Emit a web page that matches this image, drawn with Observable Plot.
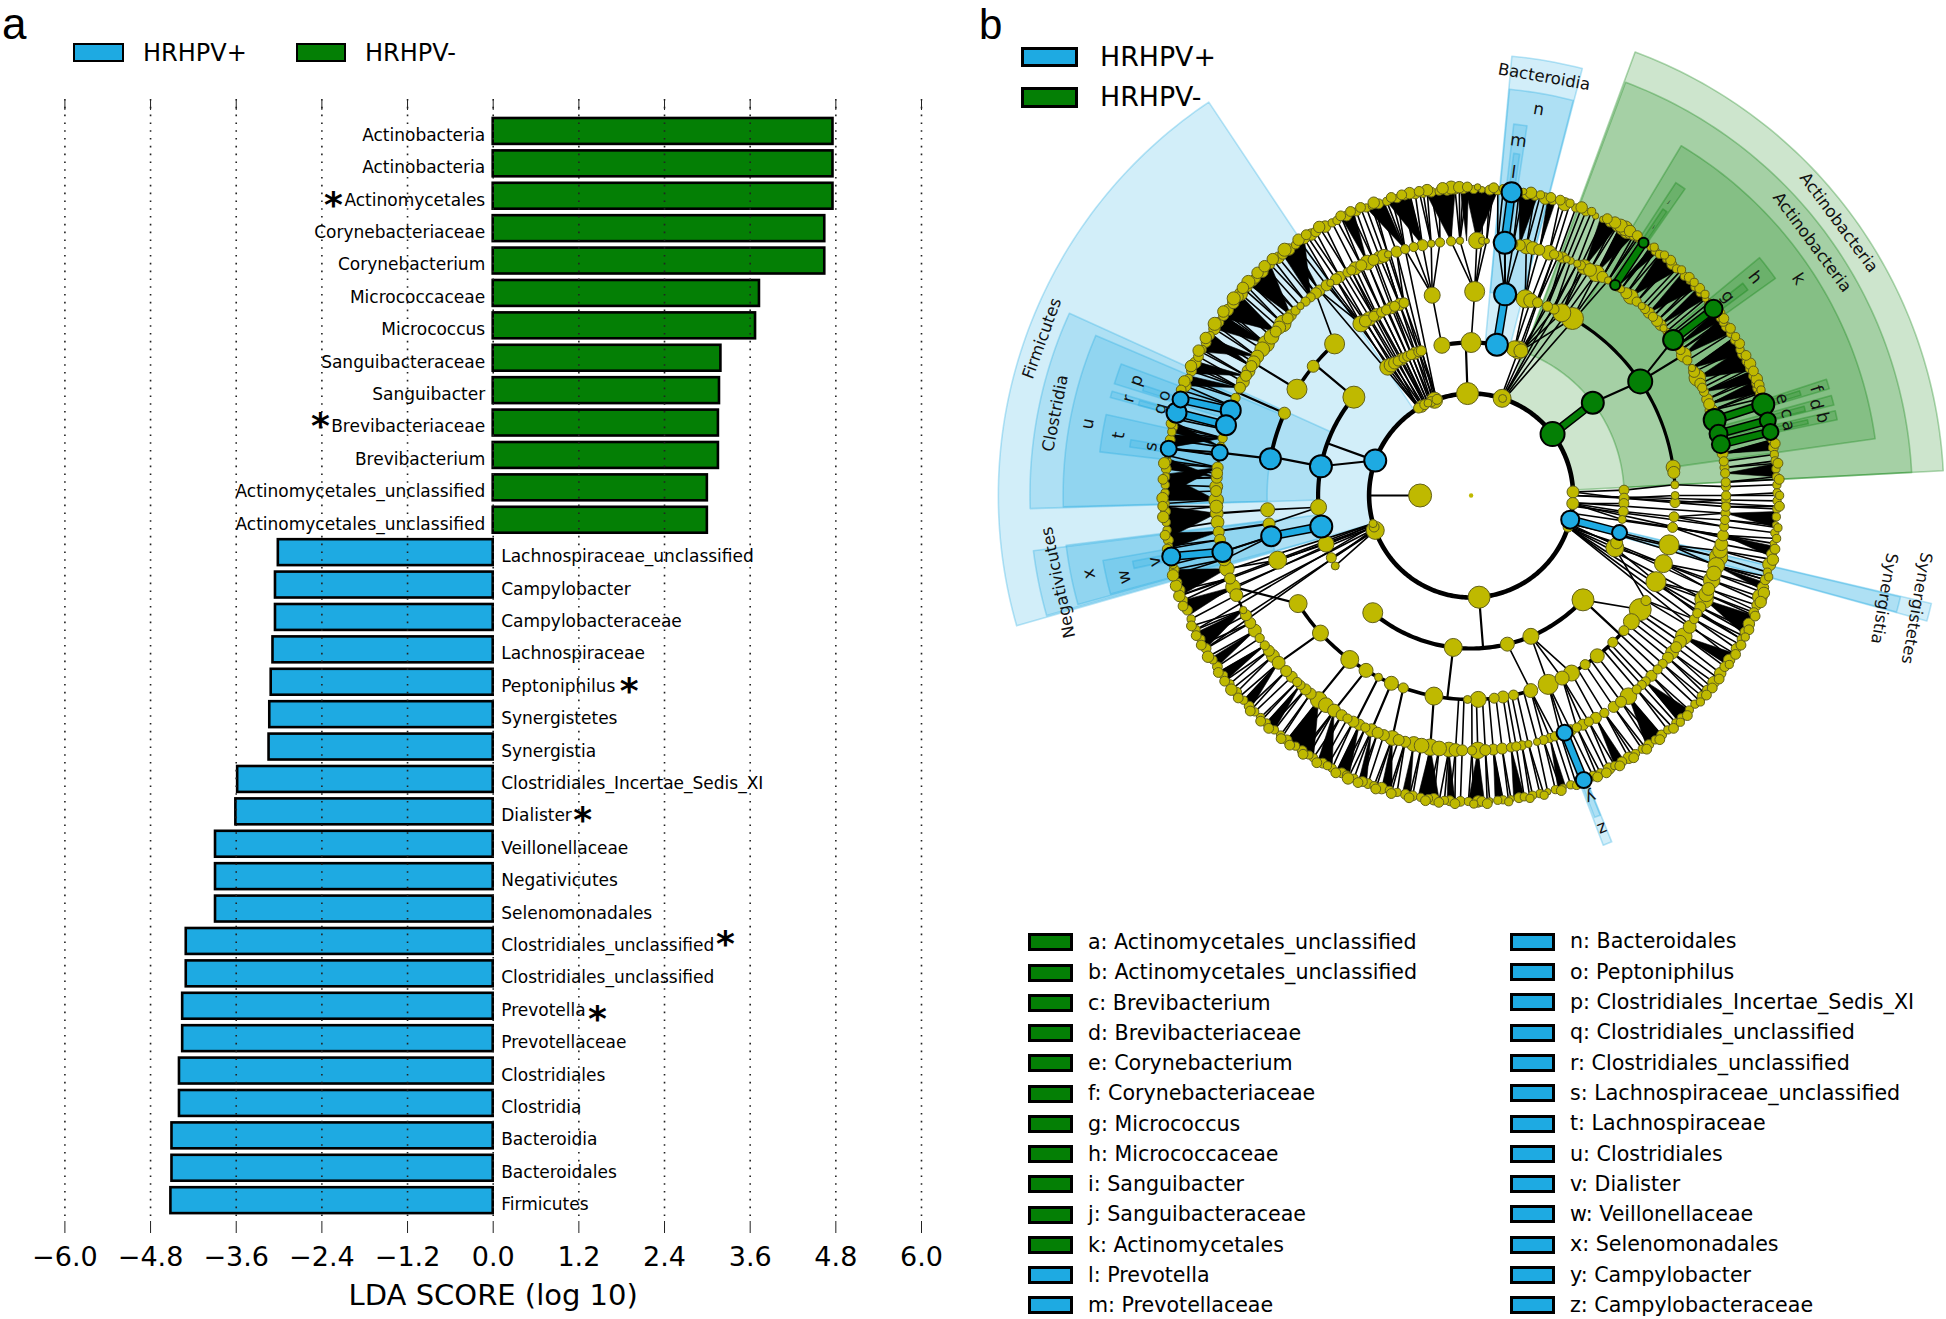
<!DOCTYPE html>
<html>
<head>
<meta charset="utf-8">
<script src="https://cdn.jsdelivr.net/npm/d3@7"></script>
<script src="https://cdn.jsdelivr.net/npm/@observablehq/plot@0.6"></script>
<style>
html,body{margin:0;padding:0;background:#fff}
#root{position:relative;width:1946px;height:1319px;overflow:hidden;font-family:"DejaVu Sans",sans-serif;color:#000;background:#fff}
#root>svg{position:absolute}
.sw{position:absolute;box-sizing:border-box;border:3px solid #000}
.lb{position:absolute;white-space:nowrap;line-height:1}
</style>
</head>
<body>
<div id="root"></div>
<script>
const BLUE="#1eaae2", GREEN="#047f05", YELLOW="#bfb900";

// ---------- panel a: LDA scores ----------
const greenNames=["Actinobacteria","Actinobacteria","Actinomycetales","Corynebacteriaceae","Corynebacterium","Micrococcaceae","Micrococcus","Sanguibacteraceae","Sanguibacter","Brevibacteriaceae","Brevibacterium","Actinomycetales_unclassified","Actinomycetales_unclassified"];
const greenScores=[4.76,4.76,4.76,4.645,4.645,3.73,3.675,3.19,3.17,3.155,3.155,3.0,3.0];
const blueNames=["Lachnospiraceae_unclassified","Campylobacter","Campylobacteraceae","Lachnospiraceae","Peptoniphilus","Synergistetes","Synergistia","Clostridiales_Incertae_Sedis_XI","Dialister","Veillonellaceae","Negativicutes","Selenomonadales","Clostridiales_unclassified","Clostridiales_unclassified","Prevotella","Prevotellaceae","Clostridiales","Clostridia","Bacteroidia","Bacteroidales","Firmicutes"];
const blueScores=[-3.01,-3.05,-3.05,-3.085,-3.11,-3.13,-3.14,-3.58,-3.605,-3.89,-3.89,-3.89,-4.30,-4.30,-4.35,-4.35,-4.395,-4.395,-4.50,-4.50,-4.515];
const xTicks=[-6,-4.8,-3.6,-2.4,-1.2,0,1.2,2.4,3.6,4.8,6];
const starRows=[2,9,17,21,25,27];
const starScores=[-2.237,-2.419,1.904,1.254,3.254,1.46];
const starShift=[3,-2.6,3,2.6,-3,7];

const rowsG=greenNames.map((n,i)=>({i,n,s:greenScores[i]}));
const rowsB=blueNames.map((n,i)=>({i:i+13,n,s:blueScores[i]}));
const stars=starRows.map((r,i)=>({r,s:starScores[i],d:starShift[i]}));

const chartA=Plot.plot({
  width:970,height:1319,marginLeft:64.4,marginRight:49,marginTop:99,marginBottom:98,
  style:{fontFamily:"DejaVu Sans",background:"transparent"},
  x:{domain:[-6,6]},
  y:{type:"band",domain:d3.range(34),range:[111.5,1219.6],padding:0.2,round:false,axis:null},
  marks:[
    Plot.barX(rowsG,{x1:()=>0,x2:"s",y:"i",fill:GREEN,stroke:"#000",strokeWidth:2.6}),
    Plot.barX(rowsB,{x1:()=>0,x2:"s",y:"i",fill:BLUE,stroke:"#000",strokeWidth:2.6}),
    Plot.ruleX(xTicks,{stroke:"#222",strokeWidth:1.6,strokeDasharray:"1.6,6.2"}),
    Plot.text(rowsG,{x:()=>0,y:"i",text:"n",textAnchor:"end",dx:-8,dy:4,fontSize:17,fill:"#000"}),
    Plot.text(rowsB,{x:()=>0,y:"i",text:"n",textAnchor:"start",dx:8,dy:4,fontSize:17,fill:"#000"}),
    ...stars.map(s=>Plot.text([s],{x:"s",y:"r",text:()=>"*",fontSize:36,fontWeight:"bold",dy:6+s.d,fill:"#000",lineAnchor:"middle"})),
    Plot.axisX({anchor:"bottom",ticks:xTicks,tickFormat:d3.format(".1f"),tickSize:12,tickPadding:13,fontSize:27,label:null,stroke:"#222"}),
    Plot.axisX({anchor:"top",ticks:xTicks,tickFormat:()=>"",tickSize:-10,label:null,stroke:"#222"}),
    Plot.text(["LDA SCORE (log 10)"],{frameAnchor:"bottom",dy:74,lineAnchor:"middle",fontSize:29,fill:"#000"})
  ]
});
chartA.style.left="0px";chartA.style.top="0px";

// ---------- panel b: cladogram ----------
// angles in degrees clockwise from north, levels as taxonomic rank rings
const clades=[
 [20.3,87,2,9.27,"g"],[20.5,87,3,8.65,"g"],[31,82,4,8,"g"],[50.5,54.5,5,7.33,"g"],[33.2,34.9,5,7.33,"g"],[71.9,73.4,5,7.33,"g"],[74.5,76,5,7.33,"g"],[76.9,78.3,5,7.33,"g"],[52,53.4,6,6.76,"g"],[33.8,34.6,6,6.76,"g"],[72.3,73.1,6,6.76,"g"],[75,75.8,6,6.76,"g"],[77.3,78,6,6.76,"g"],
 [254,326.3,2,9.27,"b"],[268.3,294.4,3,8.65,"b"],[268.4,293.1,4,8,"b"],[287.4,290.6,5,7.33,"b"],[285.2,286.2,5,7.33,"b"],[276.7,282.5,5,7.33,"b"],[287.7,288.6,6,6.76,"b"],[285.2,286,6,6.76,"b"],[278.1,279.3,6,6.76,"b"],
 [254.2,262.8,3,8.65,"b"],[254.5,263,4,8,"b"],[254.7,260,5,7.33,"b"],[257.8,259,6,6.76,"b"],
 [5.3,14.6,3,8.65,"b"],[5.4,14.5,4,8,"b"],[6.55,8.6,5,7.33,"b"],[7.1,8.1,6,6.76,"b"],
 [103.2,105.4,2,9.27,"b"],[103.3,105.3,3,8.65,"b"],
 [157.9,159.3,5,7.33,"b"],[158,159,6,6.76,"b"]
];
const ring1=[[270,11.5]];
const ring2=[[250,9],[252,5],[254,4],[175.5,11],[329,5],[331,6],[333,5],[335,4],[337,5],[339,8],[340.5,5],[358,11],[17.7,9],[18,4],[88,6],[94.5,6],[108,5]];
const ring3=[[310,11],[265.6,8],[251.5,8],[246,5],[242.6,4],[220,10],[186.7,9],[166.3,7],[157,8],[133,11],[110,9],[108,6],[88,5],[91,5],[93,5],[96,5],[99,4],[16.5,8],[18,9],[19,7],[349,8],[0,10],
 [327,8],[328.5,7],[330,6],[331.5,5],[333,6],[334,5],[335.5,5],[337,5],[338.5,6],[340,5],[341,5]];
const ring4=[[318,10],[309.3,6],[301.4,10],[293.8,6],[349,8],[1,10],[266,7],[262,6],[251.5,9],[238,9],[227.6,8],[216.5,9],[211,7],[207,4],[203,7],[199.4,5],[190.5,9],[181,4],[178,8],[173.5,5],[171,6],[168,5],[163,7],[157.8,10],[153.5,7],[150.5,8],[146,5],[141.8,7],[136,5],[131.5,5],[128.2,8],[124,11],[121,5],[115,10],[109.5,9],[104,10],[99,5],[96,5],[92,5],[90,4],[87,4],[83.5,6],[82,7],[29.8,11],[26.4,9],[24,5],[22,5],[19,5],[17,7],[15.4,9],
 [327.3,8],[328.8,6],[330,7],[331.5,5],[332.5,6],[334,5],[335.5,5],[337,6],[338,5],[339.5,6],[340.8,5]];
const ring5=[[1.3,9],[-4.5,5],[-9,4],[-11,6],[-15,5],[-17,6],[-19,4],[-21,7],[-22.5,6],[-24,8],[-25.5,6],[-27,7],[-29,5],[-31,6],[-33.5,4],[-36.5,6],[-39,5],[-42,4],[-45,6],[-47.6,9],[-50,6],[-53.5,9],[-57,7],[-59.5,6],[-62,6],[-65,6],[-67.5,5],[-77,5],[-83.7,6],[-86,6],[-89,6],[-91,8],[-94,7],[-98.2,6],[-106.7,8],[-109,6],[-111,8],[-116.7,4],[-120,6],[-122,7],[-126,5],[-129,7],[-131,7],[-135.3,6],[-138,5],[-143.3,9],[-147.5,7],[-151,5],[-154,6],[-157,7],[-160,6],[-162,8],[-165,6],[-167,8],[-170.8,9],[-175,8],[-178,6],[178.5,9],[175,6],[173,6],[171,5],[167,4],[165,4],[162,5],[157,6],[154,6],[150.7,6],[146,6],[141.9,9],[136.8,5],[135,6],[131.3,5],[128,7],[123.5,9],[119,5],[114,10],[109.4,9],[104,10],[99,6],[97,5],[94,5],[91,5],[88,5],[90,5],[87,5],[83.7,5],[82.3,5],[67.8,6],[66,5],[62.5,9],[60,4],[56.5,8],[50,4],[48,6],[44.2,6],[42,4],[38.8,8],[36,4],[32.5,4],[29.4,9],[26.4,8],[24.6,4],[23,4],[22,4],[20,5],[17.8,8],[14,7],[12.5,8],[11,6],[3.5,3],
 [2.5,4],[6,5],[9.5,5],[15.5,6],[19,5],[21,6],[25.5,5],[27.8,7],[31,6],[35,5],[37.5,6],[40.5,5],[43,5],[45.5,5],[46.8,6],[49,4],[51,5],[54,6],[55.2,5],[58,5],[61,6],[64,6],[65,5],[69,6],[70.5,7],[80.5,6],[85,5],[92.5,5],[95.5,5],[101,7],[102.5,8],[106,9],[107.8,8],[111.5,7],[112.8,8],[116,6],[117.5,5],[121,7],[125,7],[126.5,6],[129.5,6],[133,5],[138,5],[139.5,5],[144,6],[148.5,5],[152.5,5],[155.5,5],[159.5,5],[160.8,5],[163.5,5],[168.5,5],[169.8,5],[176.8,6],[179.8,5],[-176.5,7],[-172.8,8],[-168.8,8],[-163.5,6],[-158.5,6],[-155.5,5],[-152.5,6],[-149.5,6],[-145.3,8],[-141,6],[-139.5,6],[-137,5],[-133.5,6],[-127.5,6],[-124,5],[-118,6],[-113,7],[-104.5,7],[-100,6],[-96,7],[-92.5,7],[-88,7],[-85,6],[-81,5],[-79,5],[-75,6],[-71,5],[-69.5,6],[-63.5,7],[-60.8,7],[-58.5,7],[-55,8],[-51.5,8],[-48.8,7],[-46,6],[-43.5,5],[-40.5,5],[-37.5,6],[-34.5,6],[-32,6],[-28,5],[-20,7],[-13,5],[-7,5],[-2.5,4]];
const ring6=[[0.5,5],[2,4],[3.5,6],[5,5],[9,5],[10.5,6],[12,5],[14,7],[15.5,5],[17.8,8],[20,5],[22,5],[24,4],[25.5,4],[27,5],[28.5,6],[29.5,7],[30.5,8],[31.2,6],[32,5],[33,4],[35.8,4],[37,5],[38,5],[39.5,4],[41,6],[42.2,5],[44.2,5],[45.5,4],[47,5],[48.5,5],[50,4],[51,5],[54.5,5],[55.5,5],[56.5,6],[58,5],[59.5,5],[61.5,5],[62.5,6],[64,5],[65.5,5],[67,5],[68.5,5],[69.5,6],[70.5,5],[71.5,4],[79.5,5],[81,6],[82.3,5],[83.5,5],[85,5],[86.5,5],[88,5],[89.5,5],[91,5],[92.5,5],[94,5],[95.5,4],[97,5],[99,4],[101,6],[103,8],[104.5,5],[106,6],[107.5,7],[109.3,9],[111,6],[112.5,6],[114.8,7],[116.5,6],[118,5],[120,6],[122.5,7],[124,6],[125.5,7],[127.6,7],[129.5,6],[131,6],[133,5],[134.5,5],[136.6,5],[138,5],[140,5],[141.5,6],[143,5],[144.5,6],[146,5],[147.5,5],[149,7],[150.5,6],[152,5],[153.2,7],[155,5],[156.5,6],[161,5],[162.5,4],[164,5],[165.5,4],[167,5],[168.4,5],[170,5],[171,6],[172.5,4],[174,5],[175,5],[176.5,4],[178,6],[178.7,7],[-179.5,5],[-178,6],[-176,6],[-175,5],[-173,7],[-172,5],[-170.5,5],[-169,6],[-167.6,6],[-166,5],[-164.5,5],[-163,7],[-161.5,5],[-160.3,6],[-159.2,6],[-157.5,5],[-156,5],[-155,6],[-153,5],[-152,5],[-151,6],[-149,5],[-148,5],[-146.5,6],[-145,5],[-143,6],[-141.5,5],[-140,5],[-138,5],[-136.5,5],[-135,5],[-133.5,6],[-132,5],[-130,6],[-128,5],[-126,5],[-124,6],[-122.5,5],[-120,6],[-118,5],[-116,5],[-113.8,5],[-112,6],[-110,5],[-108,6],[-106.5,5],[-104,6],[-103,5],[-99.5,4],[-98.4,6],[-96.5,5],[-95,5],[-93,6],[-91.5,5],[-89.5,5],[-88,5],[-86.5,5],[-85,6],[-83.5,5],[-82.5,4],[-79.5,6],[-78,5],[-77,6],[-75.5,5],[-69,7],[-67.5,5],[-66,6],[-64.3,7],[-63,6],[-61.5,5],[-60,6],[-58.5,5],[-57,7],[-55.5,6],[-54,6],[-52.7,7],[-51,7],[-49.5,6],[-48.8,8],[-47,6],[-45.5,6],[-44.8,6],[-43,7],[-41,5],[-39,7],[-38,6],[-36.5,7],[-35,5],[-33,6],[-31.5,7],[-30.5,6],[-28.5,7],[-27,5],[-26,5],[-24,6],[-22,5],[-20,5],[-19,4],[-17.6,6],[-16,5],[-14,5],[-12.5,4],[-10.5,5],[-9,5],[-7.5,6],[-6,5],[-4.5,6],[-3,5],[-1.5,5]];
const ring6b=[[1.2,4],[4.2,6],[6,5],[9.8,4],[11.2,7],[13,5],[15,6],[16.8,6],[18.7,5],[21,7],[23,5],[26.2,6],[27.8,7],[29,8],[30,9],[31,7],[32.6,6],[36.4,5],[38.8,5],[40.3,6],[43,5],[45,6],[46.3,5],[47.8,6],[49.3,5],[53.8,6],[55,6],[57.2,6],[59,5],[60.5,6],[63,6],[64.7,7],[66.2,6],[67.8,7],[69,6],[70,5],[80.3,6],[84,6],[87,6],[90,5],[92,6],[96,5],[98,5],[100,6],[102,7],[105.3,5],[108.4,7],[110.2,7],[113,6],[115.8,6],[117.3,5],[119,6],[121,6],[123.2,5],[126.5,6],[128.6,6],[130.3,6],[132,5],[135.5,6],[137.3,5],[139,6],[142.3,6],[145.3,6],[148.2,6],[151.2,6],[154,6],[155.8,6],[160,5],[163,6],[166.3,5],[169,5],[173,5],[177,6],[179.5,5],[-177,6],[-174,6],[-171.5,6],[-168.4,6],[-165,6],[-162,6],[-158.5,6],[-156.5,7],[-154,6],[-150,6],[-147,6],[-144,6],[-142,6],[-139,6],[-137,6],[-134.3,6],[-131,6],[-129,7],[-127,6],[-125,6],[-121.5,7],[-119,6],[-117,6],[-115,6],[-111,6],[-109,7],[-107,7],[-105,7],[-100,6],[-97.4,6],[-94,7],[-92,6],[-90.5,7],[-87,6],[-84,7],[-81,6],[-76.5,6],[-70,6],[-68.3,7],[-65.2,7],[-62,7],[-59.3,7],[-56.2,8],[-53.4,7],[-50.3,8],[-47.7,7],[-46.2,8],[-43.8,7],[-42,7],[-40,7],[-37.2,8],[-34,7],[-32.3,6],[-29.5,7],[-25,6],[-23,6],[-21,6],[-18.4,7],[-15,6],[-13,6],[-11.5,7],[-9.7,6],[-8.2,7],[-5.3,7],[-3.7,8],[-2.2,7],[-0.7,6]];
const blueNodes=[[2,290,11],[2,103.7,9],[3,281,11],[3,258.3,11],[3,9.7,11],[3,104,7.5],[4,280.4,10.5],[4,258.5,10],[4,9.6,11],[5,279.7,8],[5,289.5,10],[5,286,10],[5,257.2,10],[5,7.6,11],[5,158.5,8],[6,7.6,10],[6,285.7,10],[6,288.3,8],[6,278.8,8],[6,258.5,9],[6,158.4,8]];
const greenNodes=[[2,53,12],[3,52.7,11],[4,56,12],[5,52.4,10],[5,34.4,5],[5,72.8,11],[5,76,9],[5,78.4,9],[6,34.3,5],[6,52.4,9],[6,72.7,11],[6,75.8,8],[6,78,8]];
// arcs: level,a0,a1,parent angle,anchor angle on the arc,weight
const arcs=[[2,0,360,270,270,4.6],[3,258,310,290,290,4.2],[3,349,379,358,358,4.2],[3,133,220,175.5,175.5,4.2],[4,165,238,186.7,186.7,3.6],[4,125,150,133,133,3.6],[4,32,86,52.7,56,3.2],[4,301.4,318,310,310,3.6],[4,280.4,293.8,281,281,4],
 [5,32.5,87,56,56.5,2.5],[5,296,322,301.4,301.4,2.5],[5,291,295.5,293.8,293.8,2.5],[5,271,290.5,280.4,279.7,2.5],[5,263.5,270.5,266,266,2.5],[5,260,263,262,262,2.5],
 [5,184,193.5,190.5,189.2,2.5],[5,194,201,199.4,198,2.5],[5,201.5,205,203,203,2.5],[5,205.5,210,207,207,2.5],[5,210.5,215,211,212.5,2.5],[5,215.5,225,216.5,217,2.5],[5,226,236,227.6,229,2.5],[5,236.5,253,238,249,2.5]];
// highlighted branches: level of child, parent angle, child angle, group
const branches=[[3,53,52.7,"g"],[5,56,52.4,"t"],[6,52.4,52.4,"g"],[6,34.4,34.3,"g"],[6,72.8,72.7,"g"],[6,76,75.8,"g"],[6,78.4,78,"g"],
 [3,103.7,104,"b"],[4,9.7,9.6,"b"],[5,9.6,7.6,"t"],[6,7.6,7.6,"b"],[4,258.3,258.5,"b"],[5,258.5,257.2,"t"],[6,257.2,258.5,"b"],[6,286,285.7,"b"],[6,289.5,288.3,"b"],[6,279.7,278.8,"t"],[6,158.5,158.4,"b"],[3,290,281,"x"]];
// fans of many terminal taxa that merge into solid wedges: parent angle on ring 5, span on ring 6
const fans=[[1.3,-1,5],[-1,-2,-0.5],[11,9,12.5],[15.5,14.5,16],[26.4,25,28.5],[29.4,29,32],[35,36,37.5],[38.8,38,42.5],[44.2,43.5,47.5],[48,47.5,50],[54,53,55],[56.5,54.5,58],[60,59,62.5],[62.5,61.5,66],[66,66,68.5],[69,68,70.5],[80.5,79.5,81.5],[85,84,86.5],[-4.5,-8.5,-3],[-11,-16,-11.5],[-15,-20,-16.5],[-24,-25,-22.5],[-39,-38,-33],[-36.5,-37,-35],[-45,-46.5,-41],[-50,-54.5,-49],[-53.5,-57,-54],[-57,-62,-59],[-59.5,-60,-58],[-62,-66.5,-64],[-65,-69,-67],[-77,-81,-78.5],[-79,-78,-76],[-83.7,-90,-86],[-86,-85,-83],[-91,-91,-86],[-94,-98,-92],[-98.2,-100,-97],[-106.7,-109,-104],[-111,-113,-110],[-116.7,-120,-116.5],[-122,-124,-122],[-126,-127,-125],[-131,-134,-132],[-138,-140,-138],[-143.3,-149,-143],[-147.5,-153,-150],[-154,-156.5,-154],[-157,-160,-158.5],[-162,-165,-163],[-167,-168.5,-167],[-170.8,-174,-170],[-175,-177,-175.5],[178.5,-179.5,177.5],[175,175.5,174],[171,172,170],[162,163.5,162],[150.7,152,150],[141.9,145,141.5],[136.8,134.5,137.5],[123.5,121,123.5],[114,113,117],[106,108,106.5],[99,99.5,101.5],[94,93,96]];
// branches that pass straight through several rings: from level, from angle, to level, to angle
const bundles=[[2,329,5,323.5],[2,330,5,326],[2,331,5,328],[2,332,5,330],[2,333,5,332],[2,334,5,334],[2,335,5,336],[2,336,5,338],[2,337,5,340],[2,338,5,341.5],[2,339,5,343],[2,340,5,345],
 [2,17,5,19],[2,17.5,5,22],[2,18,5,24.6],[2,18,5,26.4],[2,18.5,5,29.4],[2,19,5,32.5],
 [2,108,5,114],[2,108,5,119],[2,107,5,110],[2,106,5,104],[2,100,5,99],[2,96,5,97],[2,94,5,94],[2,90,5,91],[2,108,6,122],[2,108,6,118],[2,106,6,112],[2,104,6,106],[2,95,6,100],[2,90,6,92],
 [2,250,5,242],[2,251,5,246],[2,252,5,249],[2,253,5,251],[2,254,5,253],[2,254,6,251],[2,254,6,248],[2,253,6,244],[2,251,6,240]];
const labels=[
 ["Actinobacteria",53.4,8.98,53.4,16.5],["Actinobacteria",53.4,8.33,53.4,16.5],["Bacteroidia",9.9,8.33,9.9,16.5],["Firmicutes",290.1,8.96,-70,16.5],["Clostridia",281.2,8.31,-79,16.5],["Negativicutes",258.1,8.27,-102,16.5],["Synergistetes",104.2,9.01,100,16.5],["Synergistia",104,8.35,100,16.5],
 ["k",56.5,7.7,56.5,17],["h",52.5,7.02,52.5,17],["g",52.2,6.37,52.2,17],["f",72.8,7.08,72.8,17],["d",75.2,7,75.2,17],["b",77.5,7.06,77.5,17],["e",72.7,6.39,72.7,17],["c",75.4,6.4,75.4,17],["a",77.6,6.37,77.6,17],
 ["j",34,6.94,34,5],["i",34.2,6.36,34.2,5],
 ["n",9.95,7.69,9.95,17],["m",7.6,7.02,7.6,17],["l",7.5,6.39,7.5,17],["u",280.6,7.65,-79.4,17],["p",289,6.94,-71,17],["o",288,6.33,-72,17],["r",285.8,6.98,-74.2,17],["q",285.6,6.33,-74.4,17],["t",279.7,7.01,-80.3,17],["s",278.7,6.35,-81.3,17],
 ["x",258.4,7.65,-101.6,17],["w",256.8,6.99,-103.2,17],["v",258.2,6.34,-101.8,17],["z",158.5,7.02,158.5,17],["y",158.4,6.36,158.4,17]
];

const norm=a=>((a%360)+360)%360;
const px=(l,a)=>l*Math.sin(a*Math.PI/180);
const py=(l,a)=>-l*Math.cos(a*Math.PI/180);
const diff=(a,b)=>{const d=Math.abs(norm(a)-norm(b));return Math.min(d,360-d)};
const onArc=(l,a)=>{const n=norm(a);return arcs.some(r=>r[0]===l&&((n>=r[1]&&n<=r[2])||(n+360>=r[1]&&n+360<=r[2])))};
const nearest=(list,a)=>list.reduce((b,n)=>diff(n[0],a)<diff(b[0],a)?n:b,list[0]);
const rings={1:ring1,2:ring2,3:ring3,4:ring4,5:ring5,6:ring6};
const coloredAt=l=>[...blueNodes,...greenNodes].filter(n=>n[0]===l).map(n=>[n[1],n[2]]);

const arcPts=(a0,a1,l)=>{const p=[];const n=Math.max(2,Math.ceil(Math.abs(a1-a0)));for(let i=0;i<=n;i++){const a=a0+(a1-a0)*i/n;p.push({x:px(l,a),y:py(l,a)})}return p};
const cladeMarks=clades.map(c=>{
  const pts=[...arcPts(c[0],c[1],c[3]),...arcPts(c[1],c[0],c[2])];pts.push(pts[0]);
  const col=c[4]==="g"?GREEN:BLUE;
  return Plot.line(pts,{x:"x",y:"y",fill:col,fillOpacity:0.2,stroke:col,strokeOpacity:0.3,strokeWidth:1.6});
});
const segs=[];
function addSeg(l0,a0,l1,a1){const id=segs.length;segs.push({id,x:px(l0,a0),y:py(l0,a0)});segs.push({id,x:px(l1,a1),y:py(l1,a1)})}
for(const l of [3,4,5,6]){
  for(const n of [...rings[l],...coloredAt(l)]){
    if(l<6&&onArc(l,n[0])) continue;
    if(l===5&&onArc(4,n[0])){addSeg(4,n[0],5,n[0]);continue}
    const p=nearest([...rings[l-1],...coloredAt(l-1)],n[0]);
    addSeg(l-1,p[0],l,n[0]);
  }
}
const pool5=[...rings[5],...coloredAt(5)];
for(const n of ring6b){addSeg(5,nearest(pool5,n[0])[0],6.05,n[0])}
for(const b of bundles){addSeg(b[0],b[1],b[2],b[3])}
const arcLines=arcs.flatMap((r,i)=>arcPts(r[1],r[2],r[0]).map(p=>({...p,id:i,w:r[5]})));
const parentLinks=arcs.flatMap((r,i)=>[{id:i,x:px(r[0]-1,r[3]),y:py(r[0]-1,r[3])},{id:i,x:px(r[0],r[4]),y:py(r[0],r[4])}]);
const fanPts=fans.flatMap((f,i)=>[[5,f[0]],[6,f[1]],[6,f[2]],[5,f[0]]].map(q=>({id:i,x:px(q[0],q[1]),y:py(q[0],q[1])})));
const branchPts=branches.flatMap((b,i)=>[{id:i,g:b[3],x:px(b[0]-1,b[1]),y:py(b[0]-1,b[1])},{id:i,g:b[3],x:px(b[0],b[2]),y:py(b[0],b[2])}]);
const nodesAt=(list,l,k=1)=>list.map(n=>({x:px(l,n[0]),y:py(l,n[0]),w:n[1]*k}));
const cNodes=list=>list.map(n=>({x:px(n[0],n[1]),y:py(n[0],n[1]),w:n[2]}));
const arcWidths=[...new Set(arcs.map(r=>r[5]))];
const NODE_EDGE="#62601a";
const ringScale={1:1,2:1,3:1,4:1,5:0.92,6:0.82};

const chartB=Plot.plot({
  width:976,height:900,margin:0,
  style:{fontFamily:"DejaVu Sans",background:"transparent",overflow:"visible"},
  x:{domain:[-500.6/51,475.4/51],range:[0,976],axis:null},
  y:{domain:[-495/51,405/51],range:[0,900],axis:null},
  r:{type:"identity"},
  marks:[
    ...cladeMarks,
    Plot.line(fanPts,{x:"x",y:"y",z:"id",fill:"#000",stroke:"#000",strokeWidth:0.6}),
    Plot.line(segs,{x:"x",y:"y",z:"id",stroke:"#000",strokeWidth:1.6}),
    Plot.line(parentLinks,{x:"x",y:"y",z:"id",stroke:"#000",strokeWidth:2.2}),
    ...arcWidths.map(w=>Plot.line(arcLines.filter(d=>d.w===w),{x:"x",y:"y",z:"id",stroke:"#000",strokeWidth:w})),
    Plot.line(branchPts.filter(d=>d.g==="g"||d.g==="b"),{x:"x",y:"y",z:"id",stroke:"#000",strokeWidth:9}),
    Plot.line(branchPts.filter(d=>d.g==="t"||d.g==="x"),{x:"x",y:"y",z:"id",stroke:"#000",strokeWidth:2}),
    Plot.line(branchPts.filter(d=>d.g==="g"),{x:"x",y:"y",z:"id",stroke:GREEN,strokeWidth:6}),
    Plot.line(branchPts.filter(d=>d.g==="b"),{x:"x",y:"y",z:"id",stroke:BLUE,strokeWidth:6}),
    Plot.dot([{x:0,y:0}],{x:"x",y:"y",r:2.2,fill:YELLOW}),
    ...[1,2,3,4,5,6].map(l=>Plot.dot(nodesAt(rings[l],l,ringScale[l]),{x:"x",y:"y",r:"w",fill:YELLOW,stroke:NODE_EDGE,strokeWidth:1})),
    Plot.dot(nodesAt(ring6b,6.05,ringScale[6]),{x:"x",y:"y",r:"w",fill:YELLOW,stroke:NODE_EDGE,strokeWidth:1}),
    Plot.dot(cNodes(blueNodes),{x:"x",y:"y",r:"w",fill:BLUE,stroke:"#000",strokeWidth:2}),
    Plot.dot(cNodes(greenNodes),{x:"x",y:"y",r:"w",fill:GREEN,stroke:"#000",strokeWidth:2}),
    ...[16.5,17,5].map(s=>Plot.text(labels.filter(d=>d[4]===s),{x:d=>px(d[2],d[1]),y:d=>py(d[2],d[1]),text:d=>d[0],rotate:d=>d[3],fontSize:s,fill:"#111"}))
  ]
});
chartB.style.left="970px";chartB.style.top="0px";

// ---------- page assembly and legends ----------
const root=document.getElementById("root");
root.appendChild(chartA);root.appendChild(chartB);
function sw(x,y,w,h,c,b){const d=document.createElement("div");d.className="sw";d.style.cssText=`left:${x}px;top:${y}px;width:${w}px;height:${h}px;background:${c};border-width:${b}px`;root.appendChild(d)}
function lb(t,x,y,s,f){const d=document.createElement("div");d.className="lb";d.textContent=t;d.style.cssText=`left:${x}px;top:${y-s/2}px;font-size:${s}px;height:${s}px;`+(f?`font-family:${f};`:"");root.appendChild(d)}
lb("a",2,24,44,'"Liberation Sans"');
lb("b",979,24.5,42,'"Liberation Sans"');
sw(73,43,51,19,BLUE,2.5);lb("HRHPV+",143,53,24);
sw(296,43,50,19,GREEN,2.5);lb("HRHPV-",365,53,24);
sw(1021,47,57,20,BLUE,3);lb("HRHPV+",1100,57,26.8);
sw(1021,87,57,21,GREEN,3);lb("HRHPV-",1100,97,26.8);
const legendLeft=["a: Actinomycetales_unclassified","b: Actinomycetales_unclassified","c: Brevibacterium","d: Brevibacteriaceae","e: Corynebacterium","f: Corynebacteriaceae","g: Micrococcus","h: Micrococcaceae","i: Sanguibacter","j: Sanguibacteraceae","k: Actinomycetales","l: Prevotella","m: Prevotellaceae"];
const legendRight=["n: Bacteroidales","o: Peptoniphilus","p: Clostridiales_Incertae_Sedis_XI","q: Clostridiales_unclassified","r: Clostridiales_unclassified","s: Lachnospiraceae_unclassified","t: Lachnospiraceae","u: Clostridiales","v: Dialister","w: Veillonellaceae","x: Selenomonadales","y: Campylobacter","z: Campylobacteraceae"];
legendLeft.forEach((t,i)=>{const y=942.3+i*30.25;sw(1028,y-9,45,18,i<11?GREEN:BLUE,3);lb(t,1088,y,20.6)});
legendRight.forEach((t,i)=>{const y=941.7+i*30.3;sw(1510,y-9,45,18,BLUE,3);lb(t,1570,y,20.6)});
</script>
</body>
</html>
